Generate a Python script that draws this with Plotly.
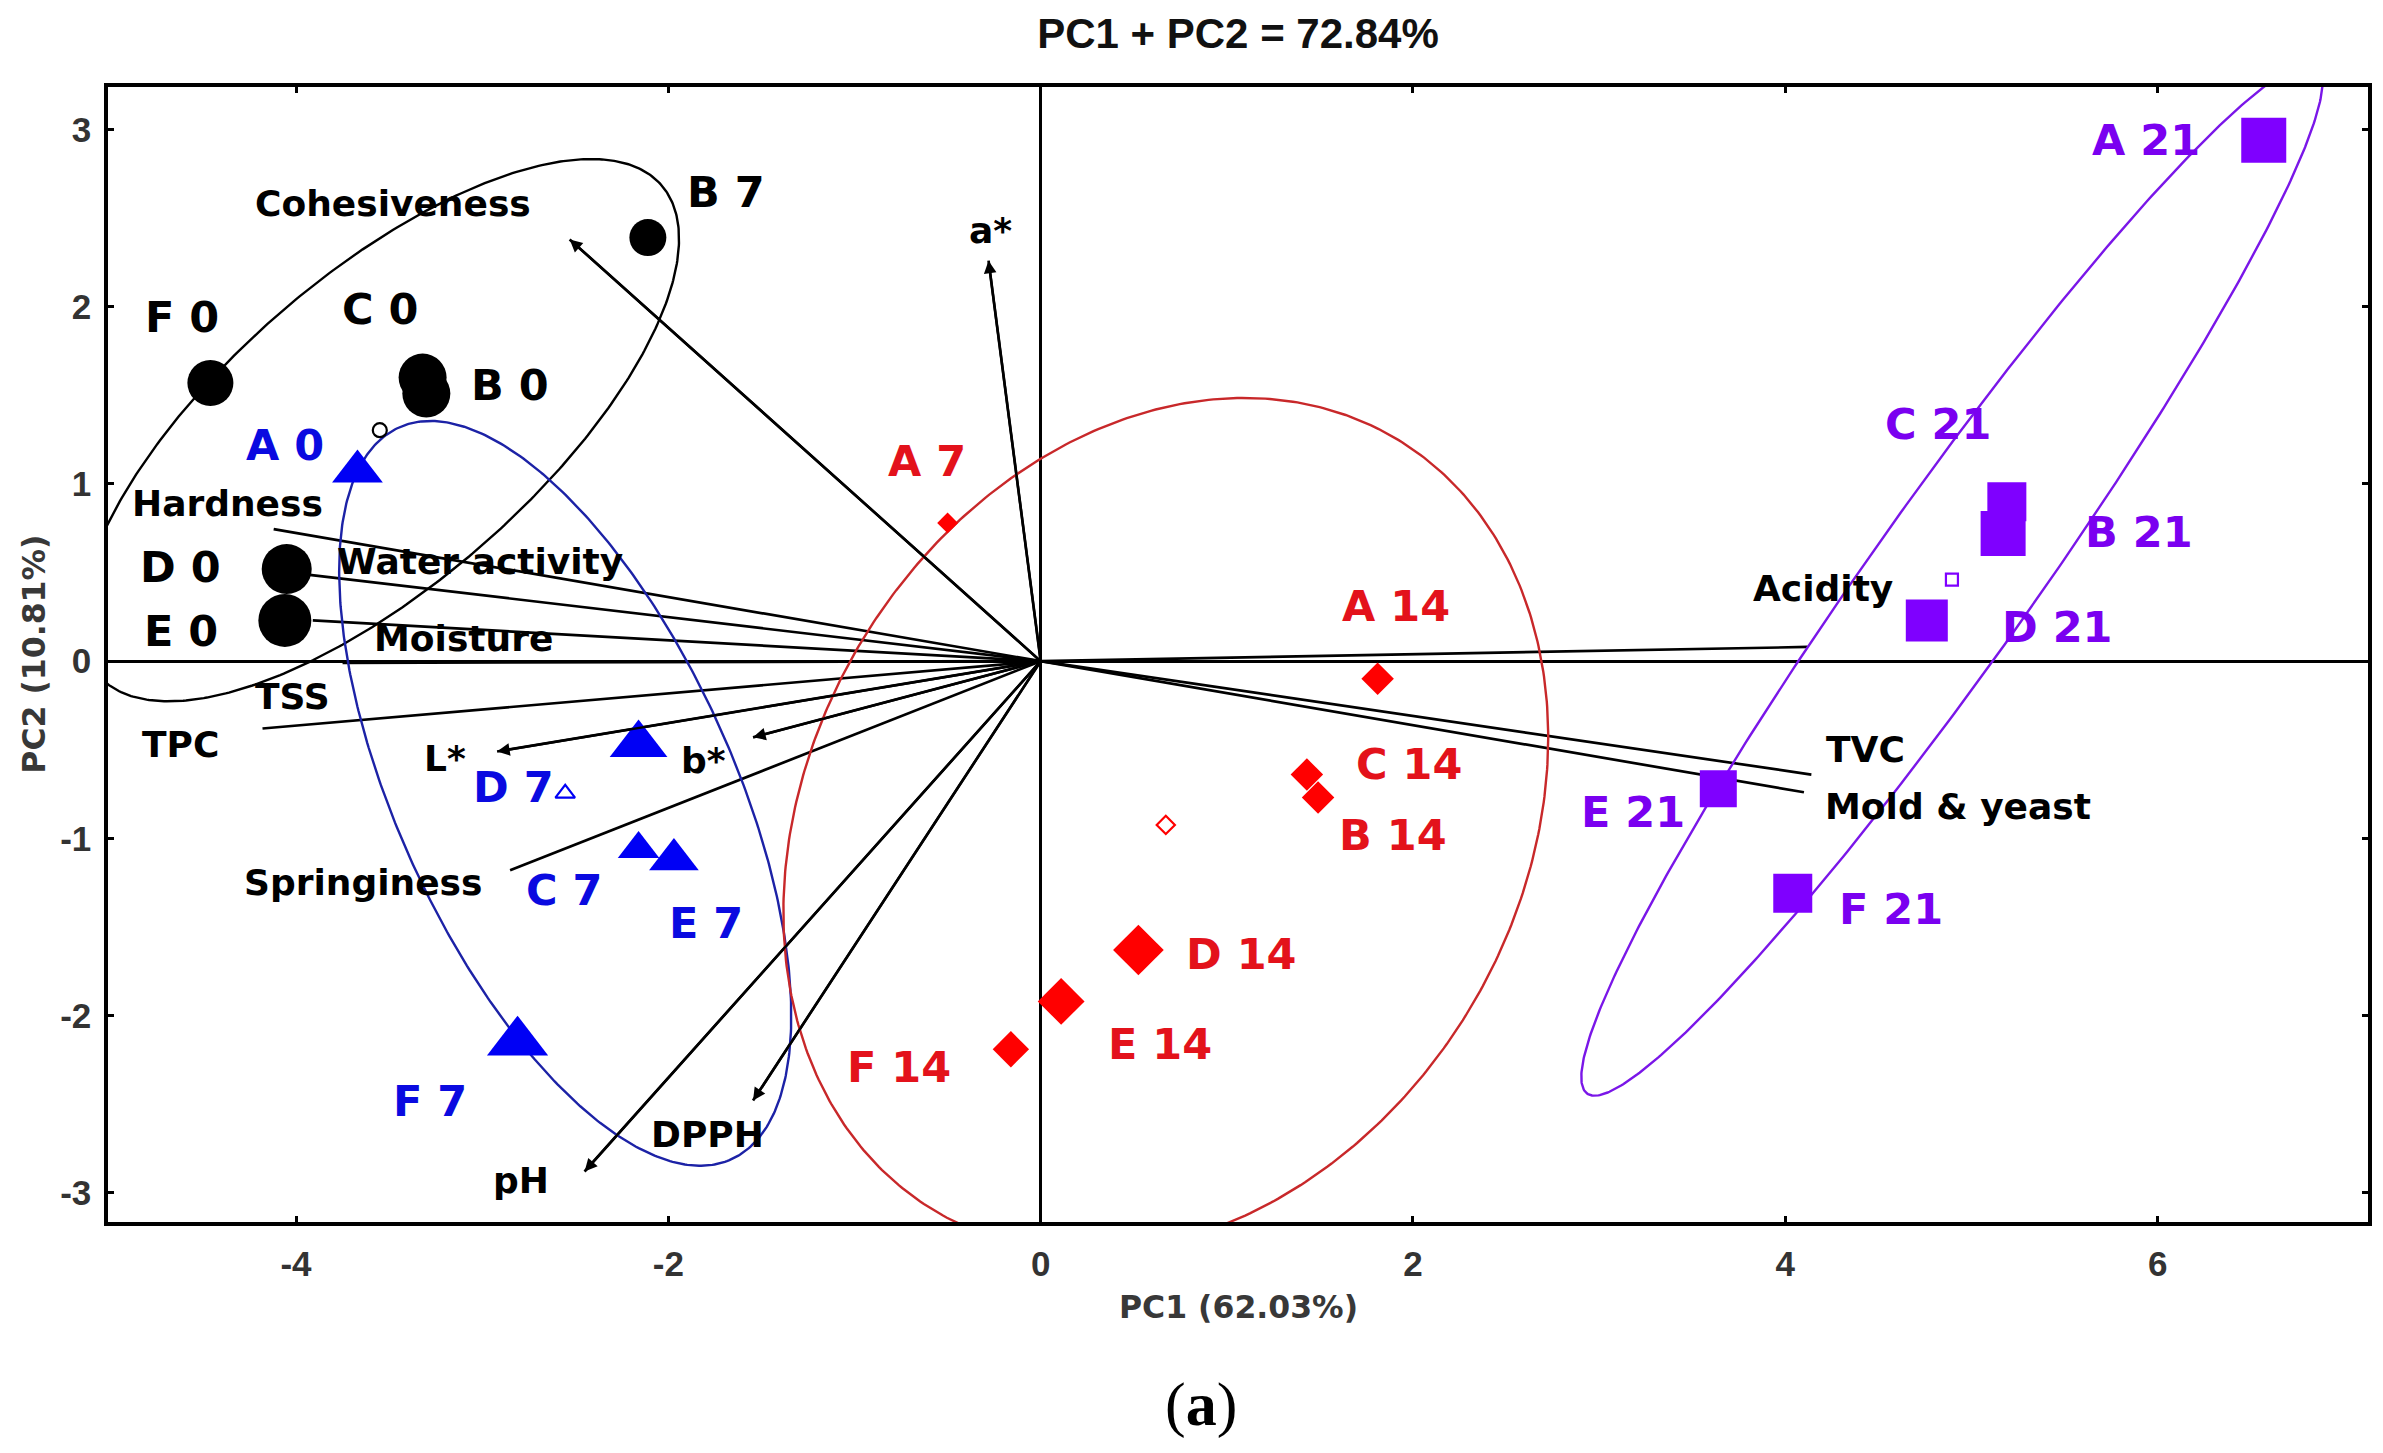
import numpy as np
import plotly.graph_objects as go

# ---------------- data ----------------
day0_labels = ["F 0", "C 0", "B 0", "D 0", "E 0", "B 7"]
day0_pc1 = [-4.46, -3.32, -3.30, -4.05, -4.06, -2.11]
day0_pc2 = [1.57, 1.60, 1.51, 0.52, 0.23, 2.39]

day7_labels = ["A 0", "D 7", "C 7", "E 7", "F 7"]
day7_pc1 = [-3.67, -2.16, -2.16, -1.97, -2.81]
day7_pc2 = [1.07, -0.47, -1.06, -1.12, -2.15]

day14_labels = ["A 7", "A 14", "C 14", "B 14", "D 14", "E 14", "F 14"]
day14_pc1 = [-0.50, 1.81, 1.43, 1.49, 0.525, 0.11, -0.16]
day14_pc2 = [0.78, -0.10, -0.64, -0.77, -1.63, -1.92, -2.19]

day21_labels = ["A 21", "C 21", "B 21", "D 21", "E 21", "F 21"]
day21_pc1 = [6.57, 5.19, 5.17, 4.76, 3.64, 4.04]
day21_pc2 = [2.94, 0.90, 0.72, 0.23, -0.72, -1.31]

loading_names = ["Cohesiveness", "a*", "Hardness", "Water activity", "Moisture", "TSS",
                 "TPC", "L*", "b*", "Springiness", "pH", "DPPH", "Acidity", "TVC",
                 "Mold & yeast"]
loading_pc1 = [-2.53, -0.28, -4.12, -3.95, -3.91, -3.75, -4.18, -2.92, -1.545, -2.85,
               -2.45, -1.545, 4.12, 4.14, 4.10]
loading_pc2 = [2.38, 2.26, 0.745, 0.49, 0.23, -0.01, -0.38, -0.51, -0.43, -1.18,
               -2.88, -2.48, 0.08, -0.64, -0.74]
loading_arrow = [True, True, False, False, False, False, False, True, True, False,
                 True, True, False, False, False]

# confidence ellipses: semi-major, semi-minor, rotation (deg)
ellipse_a = [2.05, 2.25, 2.51, 3.50]
ellipse_b = [0.85, 0.91, 1.93, 0.44]
ellipse_angle = [43, -67, 64, 56]

x_ticks = [-4, -2, 0, 2, 4, 6]
y_ticks = [-3, -2, -1, 0, 1, 2, 3]

title_text = "PC1 + PC2 = 72.84%"
x_title = "PC1 (62.03%)"
y_title = "PC2 (10.81%)"
panel_text = "(<b>a</b>)"

# ---------------- styles ----------------
groups = [
    dict(labels=day0_labels, x=day0_pc1, y=day0_pc2, symbol="circle",
         sizes=[46, 48, 48, 50, 53, 37], color="#000000", text_color="#000000",
         ell_color="#000000", cen_symbol="circle-open", cen_size=14,
         label_pos={"F 0": (-4.61, 1.94), "C 0": (-3.55, 1.99), "B 0": (-2.85, 1.56),
                    "D 0": (-4.62, 0.53), "E 0": (-4.62, 0.17), "B 7": (-1.69, 2.65)}),
    dict(labels=day7_labels, x=day7_pc1, y=day7_pc2, symbol="triangle-up",
         sizes=[44, 50, 36, 43, 53], color="#0000f5", text_color="#0a0ae0",
         ell_color="#1c22a6", cen_symbol="triangle-up-open", cen_size=17,
         label_pos={"A 0": (-4.06, 1.22), "D 7": (-2.83, -0.71), "C 7": (-2.56, -1.29),
                    "E 7": (-1.80, -1.48), "F 7": (-3.28, -2.48)}),
    dict(labels=day14_labels, x=day14_pc1, y=day14_pc2, symbol="diamond",
         sizes=[16, 25, 25, 25, 39, 36, 28], color="#ff0000", text_color="#e3121b",
         ell_color="#c8282a", cen_symbol="diamond-open", cen_size=14,
         label_pos={"A 7": (-0.61, 1.13), "A 14": (1.91, 0.31), "C 14": (1.98, -0.58),
                    "B 14": (1.89, -0.98), "D 14": (1.08, -1.65), "E 14": (0.64, -2.16),
                    "F 14": (-0.76, -2.29)}),
    dict(labels=day21_labels, x=day21_pc1, y=day21_pc2, symbol="square",
         sizes=[45, 39, 45, 42, 37, 39], color="#7f00ff", text_color="#7a00f0",
         ell_color="#7a16e8", cen_symbol="square-open", cen_size=12,
         label_pos={"A 21": (5.94, 2.94), "C 21": (4.82, 1.34), "B 21": (5.90, 0.73),
                    "D 21": (5.46, 0.19), "E 21": (3.18, -0.85), "F 21": (4.57, -1.40)}),
]

loading_label_pos = {
    "Cohesiveness": (-3.48, 2.58), "a*": (-0.27, 2.43), "Hardness": (-4.37, 0.89),
    "Water activity": (-3.01, 0.56), "Moisture": (-3.10, 0.13), "TSS": (-4.02, -0.20),
    "TPC": (-4.62, -0.47), "L*": (-3.20, -0.55), "b*": (-1.81, -0.56),
    "Springiness": (-3.64, -1.25), "pH": (-2.79, -2.93), "DPPH": (-1.79, -2.67),
    "Acidity": (4.20, 0.41), "TVC": (4.43, -0.50), "Mold & yeast": (4.93, -0.82),
}

LABEL_FONT = "DejaVu Sans"
OFF = 8                      # default page (body) margin of the browser
W, H = 2383 - OFF, 1453 - OFF
M = dict(l=108 - OFF, r=11, t=87 - OFF, b=231)
PLOT_BOTTOM_PAGE = 1222      # page y of the plot bottom edge

fig = go.Figure()

# loading vectors (lines)
vx, vy = [], []
for px, py in zip(loading_pc1, loading_pc2):
    vx += [0, px, None]
    vy += [0, py, None]
fig.add_trace(go.Scatter(x=vx, y=vy, mode="lines",
                         line=dict(color="black", width=2.7),
                         hoverinfo="skip", showlegend=False))

# ellipses
for g, a, b, ang in zip(groups, ellipse_a, ellipse_b, ellipse_angle):
    cx = float(np.mean(g["x"]))
    cy = float(np.mean(g["y"]))
    t = np.linspace(0, 2 * np.pi, 500)
    th = np.deg2rad(ang)
    ex = cx + a * np.cos(t) * np.cos(th) - b * np.sin(t) * np.sin(th)
    ey = cy + a * np.cos(t) * np.sin(th) + b * np.sin(t) * np.cos(th)
    fig.add_trace(go.Scatter(x=ex, y=ey, mode="lines",
                             line=dict(color=g["ell_color"], width=2.4),
                             hoverinfo="skip", showlegend=False))

# points + centroids
for g in groups:
    fig.add_trace(go.Scatter(x=g["x"], y=g["y"], mode="markers",
                             marker=dict(symbol=g["symbol"], size=g["sizes"], opacity=1,
                                         color=g["color"], line=dict(width=0)),
                             text=g["labels"], showlegend=False))
    fig.add_trace(go.Scatter(x=[float(np.mean(g["x"]))], y=[float(np.mean(g["y"]))],
                             mode="markers",
                             marker=dict(symbol=g["cen_symbol"], size=g["cen_size"],
                                         opacity=1, color=g["color"], line=dict(width=2.2)),
                             hoverinfo="skip", showlegend=False))

annotations = []
# arrowheads
for name, px, py, arr in zip(loading_names, loading_pc1, loading_pc2, loading_arrow):
    if arr:
        annotations.append(dict(x=px, y=py, ax=0, ay=0, xref="x", yref="y",
                                axref="x", ayref="y", text="", showarrow=True,
                                arrowhead=2, arrowsize=1.05, arrowwidth=2.4,
                                arrowcolor="black", standoff=0, startstandoff=0))
# loading labels
for name in loading_names:
    lx, ly = loading_label_pos[name]
    annotations.append(dict(x=lx, y=ly, xref="x", yref="y", text=name, showarrow=False,
                            xanchor="center", yanchor="middle",
                            font=dict(family=LABEL_FONT, size=36, color="black",
                                      weight="bold")))
# sample labels
for g in groups:
    for lab in g["labels"]:
        lx, ly = g["label_pos"][lab]
        annotations.append(dict(x=lx, y=ly, xref="x", yref="y", text=lab,
                                showarrow=False, xanchor="center", yanchor="middle",
                                font=dict(family=LABEL_FONT, size=43,
                                          color=g["text_color"], weight="bold")))

plot_w = W - M["l"] - M["r"]
plot_h = H - M["t"] - M["b"]
# axis titles & panel label (positions given in page pixels)
annotations.append(dict(x=0.5, y=-(1307 - PLOT_BOTTOM_PAGE) / plot_h, xref="paper",
                        yref="paper", text=x_title, showarrow=False, xanchor="center",
                        yanchor="middle",
                        font=dict(family=LABEL_FONT, size=31.5, color="#383838",
                                  weight="bold")))
annotations.append(dict(x=(33 - 108) / plot_w, y=0.5, xref="paper", yref="paper",
                        text=y_title, showarrow=False, xanchor="center", yanchor="middle",
                        textangle=-90,
                        font=dict(family=LABEL_FONT, size=31.5, color="#383838",
                                  weight="bold")))
annotations.append(dict(x=(1203 - 108) / plot_w, y=-(1404 - PLOT_BOTTOM_PAGE) / plot_h,
                        xref="paper", yref="paper", text=panel_text, showarrow=False,
                        xanchor="center", yanchor="middle",
                        font=dict(family="Liberation Serif", size=62, color="black")))

axis_common = dict(showgrid=False, showline=True, linecolor="black", linewidth=3.5,
                   mirror="ticks", ticks="inside", ticklen=6, tickwidth=2.5,
                   tickcolor="black", zeroline=True, zerolinecolor="black",
                   zerolinewidth=3.2,
                   tickfont=dict(family="Liberation Sans", size=35, color="#333333",
                                 weight="bold"))

fig.update_layout(
    width=W, height=H, autosize=False,
    margin=M,
    paper_bgcolor="white", plot_bgcolor="white",
    title=dict(text=title_text, x=0.5, xref="paper", xanchor="center",
               y=1 - (33 - OFF) / H, yref="container", yanchor="middle",
               font=dict(family="Liberation Sans", size=42, color="#111111",
                         weight="bold")),
    xaxis=dict(range=[-5.01, 7.13], tickvals=x_ticks, ticktext=[str(v) for v in x_ticks],
               ticklabelstandoff=8, **axis_common),
    yaxis=dict(range=[-3.165, 3.24], tickvals=y_ticks, ticktext=[str(v) for v in y_ticks],
               ticklabelstandoff=6, **axis_common),
    annotations=annotations,
    showlegend=False,
)

fig.write_html("out.html")
